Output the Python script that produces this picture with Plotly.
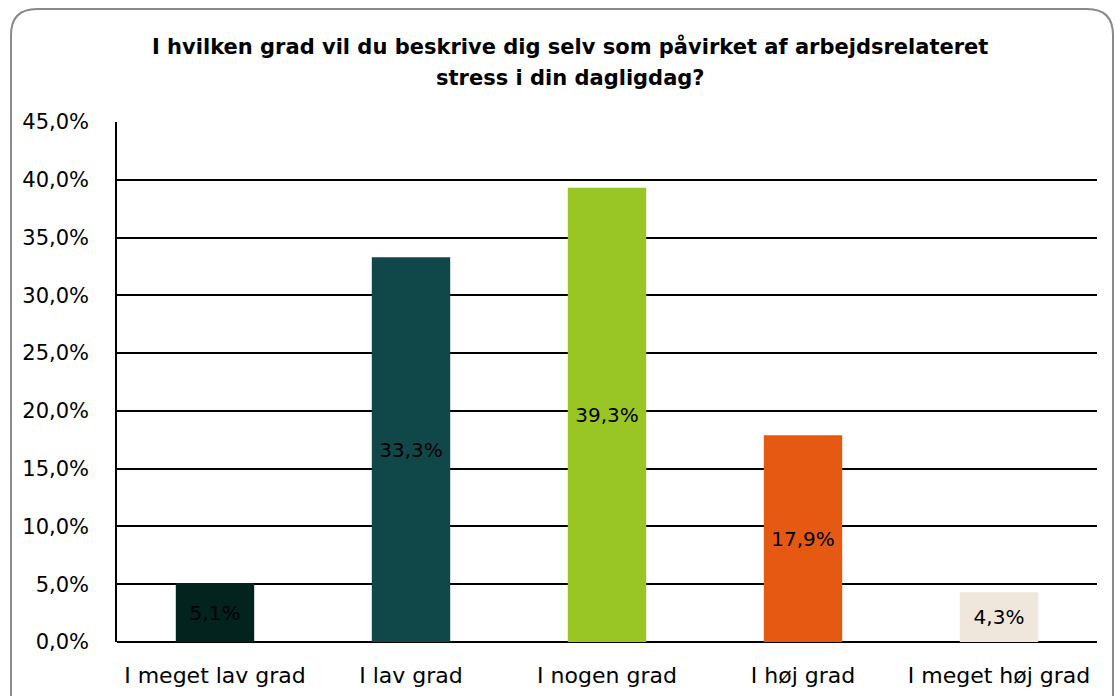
import plotly.graph_objects as go

# Survey answers and their shares (percent)
categories = ["I meget lav grad", "I lav grad", "I nogen grad", "I høj grad", "I meget høj grad"]
shares = [5.1, 33.3, 39.3, 17.9, 4.3]
bar_colors = ["#03231f", "#10484a", "#99c625", "#e55913", "#efe7dc"]
title_lines = [
    "I hvilken grad vil du beskrive dig selv som påvirket af arbejdsrelateret",
    "stress i din dagligdag?",
]

W, H = 1115, 696
ML, MR, MT, MB = 117, 18, 122, 54
PW, PH = W - ML - MR, H - MT - MB
FONT = "DejaVu Sans"


def px(x):
    return (x - ML) / PW


def py(y):
    return (H - MB - y) / PH


fig = go.Figure(
    go.Bar(
        x=categories,
        y=shares,
        marker=dict(color=bar_colors, line=dict(width=0)),
        texttemplate="%{y:.1f}%",
        textposition="inside",
        insidetextanchor="middle",
        textangle=0,
        constraintext="none",
        textfont=dict(family=FONT, size=20, color="black"),
        hoverinfo="skip",
    )
)

# rounded frame around the whole chart
x0, y0, x1, y1, r = 11, 9, 1113, 720, 26
path = (
    f"M {px(x0)},{py(y0 + r)} "
    f"Q {px(x0)},{py(y0)} {px(x0 + r)},{py(y0)} "
    f"L {px(x1 - r)},{py(y0)} "
    f"Q {px(x1)},{py(y0)} {px(x1)},{py(y0 + r)} "
    f"L {px(x1)},{py(y1)} L {px(x0)},{py(y1)} Z"
)
fig.add_shape(type="path", path=path, xref="paper", yref="paper",
              line=dict(color="#8a8a8a", width=2), fillcolor="rgba(0,0,0,0)",
              layer="below")

for i, (line, ypix) in enumerate(zip(title_lines, [46, 78])):
    fig.add_annotation(text=f"<b>{line}</b>", x=px(570), y=py(ypix),
                       xref="paper", yref="paper", showarrow=False,
                       xanchor="center", yanchor="middle",
                       font=dict(family=FONT, size=21, color="black"))

fig.update_layout(
    width=W, height=H,
    margin=dict(l=ML, r=MR, t=MT, b=MB),
    paper_bgcolor="white", plot_bgcolor="white",
    separators=",.",
    bargap=0.6,
    showlegend=False,
    font=dict(family=FONT, size=21, color="black"),
)
fig.update_yaxes(
    range=[0, 45], dtick=5, tickformat=".1f", ticksuffix="%",
    showgrid=True, gridcolor="black", gridwidth=1.5,
    zeroline=True, zerolinecolor="black", zerolinewidth=1.5,
    showline=True, linecolor="black", linewidth=1.5,
    ticks="", ticklabelstandoff=22, automargin=False,
    tickfont=dict(family=FONT, size=21, color="black"),
)
fig.update_xaxes(
    showgrid=False, showline=False, ticks="", ticklabelstandoff=18,
    automargin=False,
    tickfont=dict(family=FONT, size=22, color="black"),
)

fig.write_html("out.html")
